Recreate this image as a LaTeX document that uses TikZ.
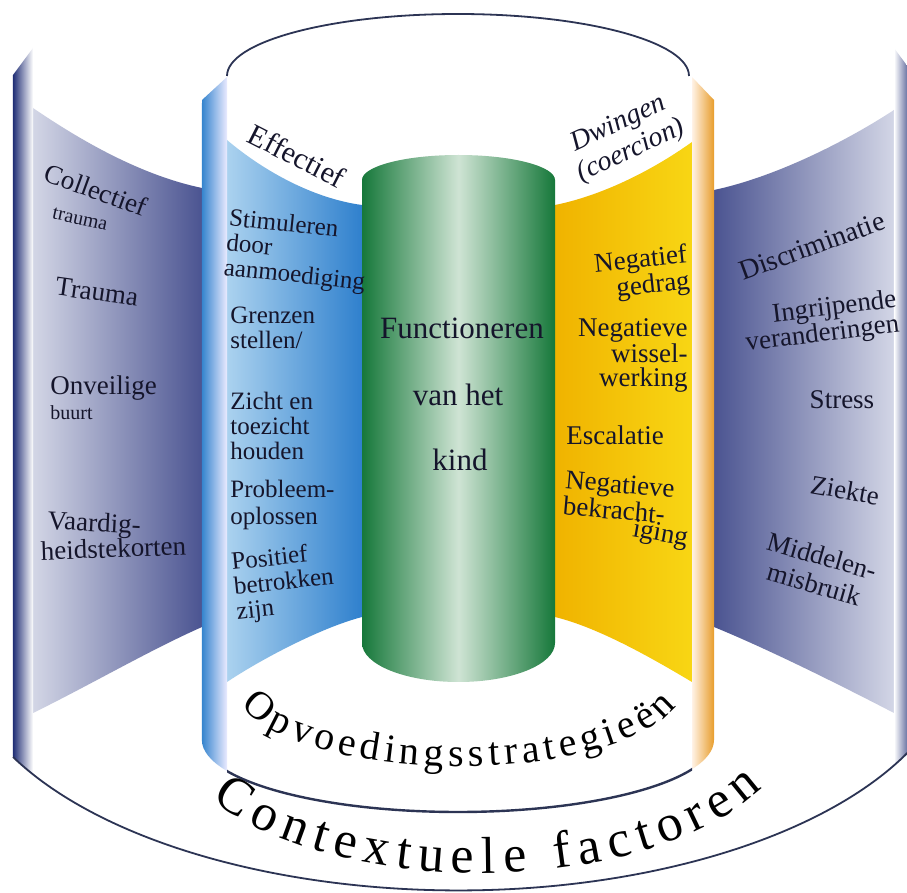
\documentclass[tikz,border=0pt]{standalone}
\usepackage{fontspec}
\setmainfont{Liberation Serif}
\usetikzlibrary{decorations.text}

\definecolor{navyedge}{HTML}{1E2C74}
\definecolor{slatelight}{HTML}{D3D6E6}
\definecolor{slatedark}{HTML}{4B5491}
\definecolor{bluestrip}{HTML}{3584CE}
\definecolor{bluelight}{HTML}{ABD2EF}
\definecolor{bluedark}{HTML}{2F80CD}
\definecolor{greendark}{HTML}{16783A}
\definecolor{greenlight}{HTML}{CFE4D4}
\definecolor{yellowdeep}{HTML}{F0B300}
\definecolor{yellowlight}{HTML}{F8D614}
\definecolor{orangestrip}{HTML}{E89D2C}
\definecolor{rimcol}{HTML}{2C3454}
\definecolor{inkcol}{HTML}{15152B}

\newcommand\opvfont{\fontsize{20}{20}\selectfont}
\newcommand\ctxfont{\fontsize{26}{26}\selectfont}

\begin{document}
\begin{tikzpicture}
[
x=0.5pt, y=-0.5pt,
rim/.style={draw=rimcol, line width=0.9pt},
sidetxt/.style={text=inkcol, inner sep=0pt, align=left, font=\fontsize{13.5}{14.5}\selectfont},
smalltxt/.style={sidetxt, font=\fontsize{10}{11}\selectfont}
]
\tikzset{bluetxt/.style={text=inkcol, inner sep=0pt, align=left, font=\fontsize{12.5}{12.4}\selectfont},
         yeltxt/.style={text=inkcol, inner sep=0pt, align=right, font=\fontsize{13.5}{11.8}\selectfont},
         greentxt/.style={text=inkcol, inner sep=0pt, font=\fontsize{15.5}{16}\selectfont}}

\useasboundingbox[fill=white] (0,0) rectangle (907,893);

% outer cylinder: contextuele factoren
\shade[left color=slatelight, right color=slatedark]
  (33,108) .. controls (80,140) and (140,175) .. (202,188) -- (202,627)
  .. controls (150,650) and (90,685) .. (33,713) -- cycle;
\shade[left color=slatedark, right color=slatelight]
  (714,190) .. controls (775,177) and (845,142) .. (894,110) -- (894,713)
  .. controls (840,685) and (770,650) .. (714,627) -- cycle;
\shade[left color=navyedge, right color=white]
  (13,75) -- (33,48) -- (33,774) arc[start angle=148.2, end angle=152.9, x radius=500, y radius=245] -- cycle;
\shade[left color=white, right color=navyedge]
  (894,48) -- (914,75) -- (914,745) arc[start angle=24.2, end angle=29.3, x radius=500, y radius=245] -- cycle;
\draw[rim] (13,757) arc[start angle=152.9, end angle=24.2, x radius=500, y radius=245];

% inner cylinder: opvoedingsstrategieen
\shade[left color=bluelight, right color=bluedark]
  (227,140) .. controls (260,168) and (310,198) .. (362,205) -- (362,617)
  .. controls (320,628) and (260,660) .. (227,682) -- cycle;
\shade[left color=yellowdeep, right color=yellowlight]
  (555,205) .. controls (600,196) and (650,172) .. (692,142) -- (692,682)
  .. controls (655,660) and (600,628) .. (555,617) -- cycle;
\shade[left color=bluestrip, right color=blue!8!white]
  (202,100) -- (227,77) -- (227,771) arc[start angle=154.4, end angle=180, x radius=256, y radius=72] -- cycle;
\shade[left color=orange!10!white, right color=orangestrip]
  (692,77) -- (714,100) -- (714,740) arc[start angle=0, end angle=23.9, x radius=256, y radius=72] -- cycle;
\draw[rim] (227,76) arc[start angle=180, end angle=360, x radius=231, y radius=62];
\begin{scope}
\clip (227,740) rectangle (692,893);
\draw[draw=rimcol, line width=1.2pt] (458,740) ellipse[x radius=256, y radius=72];
\end{scope}

% kind
\shade[left color=greendark, right color=greendark, middle color=greenlight]
  (362,180) arc[start angle=180, end angle=360, x radius=96.5, y radius=25] -- (555,643)
  arc[start angle=0, end angle=180, x radius=96.5, y radius=39] -- cycle;

\node[greentxt] (funct) at (462,328) {Functioneren};
\node[greentxt] (vanhet) at (458,395) {van het};
\node[greentxt] (kind) at (460,460) {kind};

\node[sidetxt, rotate=-27, font=\fontsize{15}{15}\selectfont] (effect) at (297,156) {Effectief};
\node[sidetxt, rotate=25, align=center, font=\itshape\fontsize{14}{15}\selectfont] (dwing) at (625,138) {Dwingen\\(coercion)};

\node[bluetxt, anchor=north west, rotate=-6] (stim) at (230,208) {Stimuleren\\door\\aanmoediging};
\node[bluetxt, anchor=north west] (grenz) at (230,307) {Grenzen\\stellen/};
\node[bluetxt, anchor=north west] (zicht) at (230,392) {Zicht en\\toezicht\\houden};
\node[bluetxt, anchor=north west, font=\fontsize{12.5}{13.5}\selectfont] (probl) at (230,480) {Probleem-\\oplossen};
\node[bluetxt, anchor=north west, rotate=6] (posit) at (230,552) {Positief\\betrokken\\zijn};

\node[yeltxt, anchor=north east, rotate=6] (negged) at (686,243) {Negatief\\gedrag};
\node[yeltxt, anchor=north east] (negwis) at (688,318) {Negatieve\\wissel-\\werking};
\node[yeltxt, anchor=north west] (escal) at (566,425) {Escalatie};
\node[yeltxt, anchor=north west, align=left, rotate=-5] (negbek) at (566,470) {Negatieve\\bekracht-};
\node[yeltxt, anchor=north east, rotate=-10] (iging) at (690,528) {iging};

\node[sidetxt, rotate=-20] (collect) at (96,190) {Collectief};
\node[smalltxt, rotate=-12] (ctrauma) at (80,219) {trauma};
\node[sidetxt, rotate=-8] (trauma) at (97,292) {Trauma};
\node[sidetxt, anchor=north west] (onveil) at (50,375) {Onveilige};
\node[smalltxt, anchor=north west] (buurt) at (50,405) {buurt};
\node[sidetxt, anchor=north west, rotate=-3] (vaard) at (48,510) {Vaardig-};
\node[sidetxt, anchor=north west, rotate=2] (heids) at (40,541) {heidstekorten};

\node[sidetxt, rotate=20, font=\fontsize{14}{14}\selectfont] (discr) at (812,246) {Discriminatie};
\node[sidetxt, anchor=north east, align=right, rotate=7, font=\fontsize{13.5}{12.5}\selectfont] (ingr) at (895,288) {Ingrijpende\\veranderingen};
\node[sidetxt] (stress) at (842,400) {Stress};
\node[sidetxt, rotate=-10] (ziekte) at (845,490) {Ziekte};
\node[sidetxt, align=center, rotate=-16] (middel) at (818,570) {Middelen-\\misbruik};

\path[decorate, decoration={text along path, text={|\opvfont|Opvoedingsstrategieën}, text align={fit to path}}]
  (241.5,705.6) arc[start angle=165, end angle=15, x radius=225, y radius=82];
\path[decorate, decoration={text along path, text={|\ctxfont|Contextuele factoren}, text align={fit to path}}]
  (211.6,800.2) arc[start angle=147, end angle=28, x radius=320, y radius=160];
\end{tikzpicture}
\end{document}
